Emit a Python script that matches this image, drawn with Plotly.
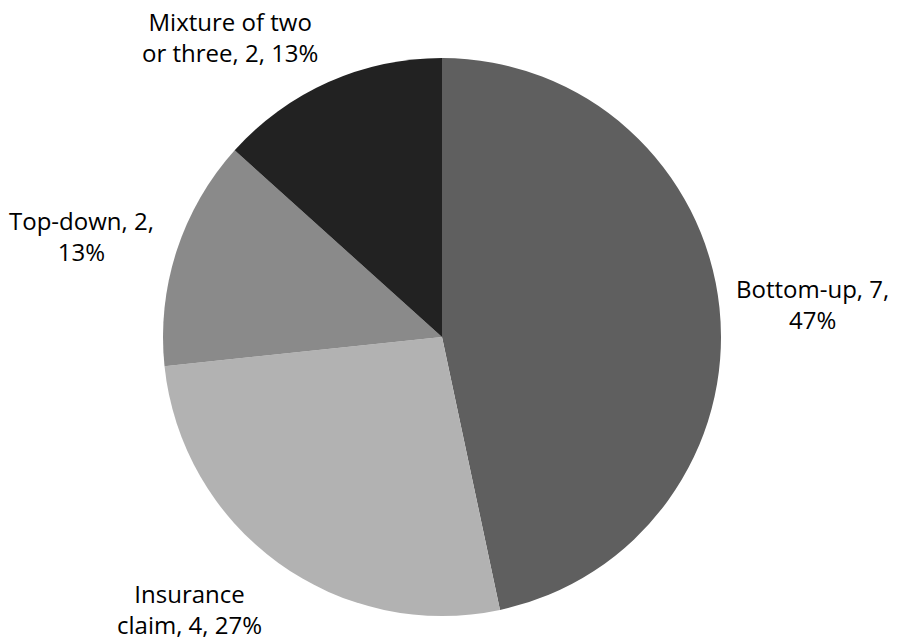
import plotly.graph_objects as go

# Survey responses by estimation approach
categories = ["Bottom-up", "Insurance claim", "Top-down", "Mixture of two or three"]
counts = [7, 4, 2, 2]
colors = ["#5f5f5f", "#b2b2b2", "#8a8a8a", "#222222"]

# Label text, split across lines the way it is drawn next to each slice
label_lines = [
    ["Bottom-up, {v},", "{p}%"],
    ["Insurance", "claim, {v}, {p}%"],
    ["Top-down, {v},", "{p}%"],
    ["Mixture of two", "or three, {v}, {p}%"],
]
label_pos = [(812, 304), (189, 609), (81, 236), (230, 37)]  # pixel centres

W, H = 899, 642
total = sum(counts)

fig = go.Figure(go.Pie(
    labels=categories,
    values=counts,
    sort=False,
    direction="clockwise",
    rotation=0,
    marker=dict(colors=colors, line=dict(width=0)),
    textinfo="none",
    hoverinfo="label+value+percent",
    domain=dict(x=[(442 - 279) / W, (442 + 279) / W],
                y=[(H - 337 - 279) / H, (H - 337 + 279) / H]),
    showlegend=False,
))

annotations = []
for lines, v, (px, py) in zip(label_lines, counts, label_pos):
    pct = round(100 * v / total)
    text = "<br>".join(l.format(v=v, p=pct) for l in lines)
    annotations.append(dict(
        x=px / W, y=1 - py / H, xref="paper", yref="paper",
        text=text, showarrow=False, xanchor="center", yanchor="middle",
        align="center",
        font=dict(family="Open Sans", size=24, color="#000000"),
    ))

fig.update_layout(
    width=W, height=H,
    margin=dict(l=0, r=0, t=0, b=0),
    paper_bgcolor="white",
    plot_bgcolor="white",
    annotations=annotations,
)

fig.write_html("out.html")
